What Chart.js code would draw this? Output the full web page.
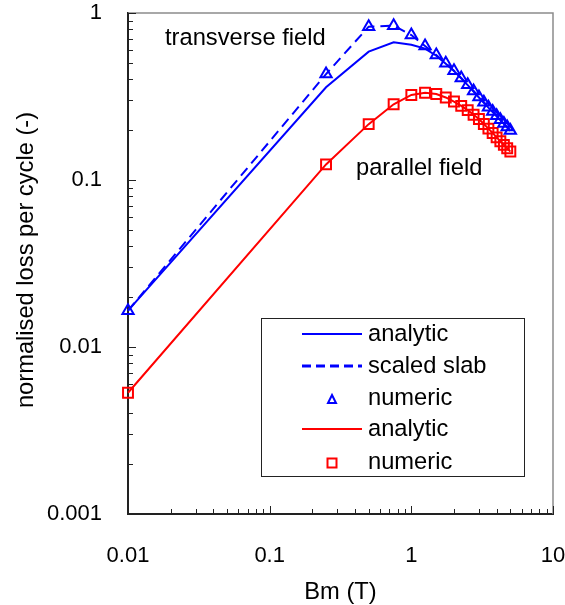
<!DOCTYPE html>
<html>
<head>
<meta charset="utf-8">
<script src="https://cdn.jsdelivr.net/npm/chart.js@4/dist/chart.umd.min.js"></script>
<style>
  html, body { margin: 0; padding: 0; background: #fff; }
  #wrap { width: 565px; height: 605px; }
</style>
</head>
<body>
<div id="wrap"><canvas id="c" width="565" height="605"></canvas></div>
<script>
// ---- data ----
const bm = [0.01, 0.25, 0.5, 0.75, 1.0, 1.25, 1.5, 1.75, 2.0, 2.25, 2.5, 2.75, 3.0, 3.25, 3.5, 3.75, 4.0, 4.25, 4.5, 4.75, 5.0];
const transverseAnalytic = [0.0165, 0.359, 0.587, 0.667, 0.645, 0.612, 0.555, 0.497, 0.449, 0.406, 0.370, 0.339, 0.312, 0.290, 0.271, 0.255, 0.241, 0.228, 0.217, 0.207, 0.197];
const transverseSlab     = [0.0165, 0.431, 0.828, 0.840, 0.738, 0.634, 0.561, 0.500, 0.451, 0.408, 0.372, 0.341, 0.314, 0.292, 0.273, 0.257, 0.2425, 0.2295, 0.218, 0.208, 0.198];
const transverseNumeric  = [0.0165, 0.431, 0.828, 0.840, 0.738, 0.634, 0.561, 0.500, 0.451, 0.408, 0.372, 0.341, 0.314, 0.292, 0.273, 0.257, 0.2425, 0.2295, 0.218, 0.208, 0.198];
const parallelAnalytic   = [0.00532, 0.124, 0.216, 0.284, 0.323, 0.333, 0.327, 0.312, 0.295, 0.278, 0.262, 0.246, 0.232, 0.2165, 0.203, 0.191, 0.180, 0.1707, 0.1624, 0.155, 0.148];
const parallelNumeric    = [0.00532, 0.124, 0.216, 0.284, 0.323, 0.333, 0.327, 0.312, 0.295, 0.278, 0.262, 0.246, 0.232, 0.2165, 0.203, 0.191, 0.180, 0.1707, 0.1624, 0.155, 0.148];
const xTicks = [0.01, 0.1, 1, 10];
const yTicks = [0.001, 0.01, 0.1, 1];
const seriesLabels = ['analytic', 'scaled slab', 'numeric', 'analytic', 'numeric'];
const xTitle = 'Bm (T)';
const yTitle = 'normalised loss per cycle (-)';
const notes = [
  { text: 'transverse field', x: 165, y: 45 },
  { text: 'parallel field', x: 356, y: 175 }
];

const BLUE = '#0000FF', RED = '#FF0000';
const FONT = '"Liberation Sans", Arial, sans-serif';
const FS = 22;     // tick labels
const FT = 23.7;   // other text

function pts(xs, ys) { return xs.map((x, i) => ({ x: x, y: ys[i] })); }

const datasets = [
  { label: seriesLabels[0], data: pts(bm, transverseAnalytic), borderColor: BLUE, borderWidth: 2, pointRadius: 0, showLine: true, order: 2, clip: false },
  { label: seriesLabels[1], data: pts(bm, transverseSlab), borderColor: BLUE, borderWidth: 2, borderDash: [10, 6], pointRadius: 0, showLine: true, order: 2, clip: false },
  { label: seriesLabels[2], data: pts(bm, transverseNumeric), borderColor: BLUE, backgroundColor: 'rgba(0,0,0,0)', pointStyle: 'triangle', pointRadius: 6.5, pointBorderWidth: 2, pointBorderColor: BLUE, pointBackgroundColor: 'rgba(0,0,0,0)', showLine: false, order: 1, clip: false },
  { label: seriesLabels[3], data: pts(bm, parallelAnalytic), borderColor: RED, borderWidth: 2, pointRadius: 0, showLine: true, order: 2, clip: false },
  { label: seriesLabels[4], data: pts(bm, parallelNumeric), borderColor: RED, backgroundColor: 'rgba(0,0,0,0)', pointStyle: 'rect', pointRadius: 7, pointBorderWidth: 2, pointBorderColor: RED, pointBackgroundColor: 'rgba(0,0,0,0)', showLine: false, order: 1, clip: false }
];

const decorPlugin = {
  id: 'decor',
  beforeDatasetsDraw(chart) {
    const ctx = chart.ctx, a = chart.chartArea;
    const xs = chart.scales.x, ys = chart.scales.y;
    ctx.save();
    // top & right frame
    ctx.strokeStyle = '#8c8c8c';
    ctx.lineWidth = 1.5;
    ctx.beginPath();
    ctx.moveTo(a.left, a.top); ctx.lineTo(a.right, a.top); ctx.lineTo(a.right, a.bottom);
    ctx.stroke();
    // inward ticks
    ctx.strokeStyle = '#222';
    ctx.lineWidth = 1;
    for (let k = -3; k <= 0; k++) {
      for (let m = 1; m <= 9; m++) {
        const v = m * Math.pow(10, k);
        if (v > 1.0001) continue;
        const py = Math.round(ys.getPixelForValue(v)) + 0.5;
        const len = m === 1 ? 8 : 5;
        ctx.beginPath(); ctx.moveTo(a.left, py); ctx.lineTo(a.left + len, py); ctx.stroke();
      }
    }
    for (let k = -2; k <= 1; k++) {
      for (let m = 1; m <= 9; m++) {
        const v = m * Math.pow(10, k);
        if (v > 10.0001) continue;
        const px = Math.round(xs.getPixelForValue(v)) + 0.5;
        const len = m === 1 ? 8 : 5;
        ctx.beginPath(); ctx.moveTo(px, a.bottom); ctx.lineTo(px, a.bottom - len); ctx.stroke();
      }
    }
    ctx.restore();
  },
  afterDraw(chart) {
    const ctx = chart.ctx, a = chart.chartArea;
    ctx.save();
    ctx.fillStyle = '#000';
    ctx.font = FT + 'px ' + FONT;
    // axis titles
    ctx.textAlign = 'center';
    ctx.textBaseline = 'middle';
    ctx.fillText(xTitle, (a.left + a.right) / 2, 592);
    ctx.save();
    ctx.translate(26, 260);
    ctx.rotate(-Math.PI / 2);
    ctx.fillText(yTitle, 0, 0);
    ctx.restore();
    // annotations
    ctx.textAlign = 'left';
    ctx.textBaseline = 'alphabetic';
    notes.forEach(n => ctx.fillText(n.text, n.x, n.y));
    // legend box
    const box = { x: 261, y: 318, w: 263, h: 158 };
    ctx.fillStyle = '#fff';
    ctx.fillRect(box.x, box.y, box.w, box.h);
    ctx.strokeStyle = '#222';
    ctx.lineWidth = 1;
    ctx.strokeRect(box.x + 0.5, box.y + 0.5, box.w, box.h);
    const rowY = [334, 366, 398, 429, 462];
    chart.data.datasets.forEach((ds, i) => {
      const y = rowY[i];
      ctx.save();
      if (ds.showLine) {
        ctx.strokeStyle = ds.borderColor;
        ctx.lineWidth = ds.borderDash ? 3 : 2;
        ctx.setLineDash(ds.borderDash ? [9, 5] : []);
        ctx.beginPath(); ctx.moveTo(302, y); ctx.lineTo(362, y); ctx.stroke();
      } else {
        ctx.strokeStyle = ds.pointBorderColor;
        ctx.lineWidth = 2;
        ctx.beginPath();
        if (ds.pointStyle === 'rect') { ctx.rect(332 - 4.5, y - 3.5, 9, 9); }
        else { ctx.moveTo(332, y - 3); ctx.lineTo(336, y + 5); ctx.lineTo(328, y + 5); ctx.closePath(); }
        ctx.stroke();
      }
      ctx.restore();
      ctx.fillStyle = '#000';
      ctx.textBaseline = 'middle';
      ctx.textAlign = 'left';
      ctx.fillText(ds.label, 368, y);
    });
    ctx.restore();
  }
};

function zeroPad(s) { s.paddingLeft = 0; s.paddingRight = 0; s.paddingTop = 0; s.paddingBottom = 0; }

new Chart(document.getElementById('c'), {
  type: 'scatter',
  data: { datasets: datasets },
  options: {
    responsive: false,
    animation: false,
    devicePixelRatio: 1,
    layout: { padding: { top: 13, right: 12, left: 0, bottom: 0 } },
    plugins: { legend: { display: false }, tooltip: { enabled: false } },
    scales: {
      x: {
        type: 'logarithmic', min: 0.01, max: 10,
        afterBuildTicks: s => { s.ticks = xTicks.map(v => ({ value: v })); },
        afterFit: s => { s.height = 91; zeroPad(s); },
        grid: { display: false },
        border: { display: true, color: '#222', width: 2 },
        ticks: { autoSkip: false, maxRotation: 0, padding: 21, color: '#000', font: { family: FONT, size: FS },
          callback: v => String(v) }
      },
      y: {
        type: 'logarithmic', min: 0.001, max: 1,
        afterBuildTicks: s => { s.ticks = yTicks.map(v => ({ value: v })); },
        afterFit: s => { s.width = 128; zeroPad(s); },
        grid: { display: false },
        border: { display: true, color: '#222', width: 2 },
        ticks: { autoSkip: false, padding: 18, color: '#000', font: { family: FONT, size: FS },
          callback: v => String(v) }
      }
    }
  },
  plugins: [decorPlugin]
});
</script>
</body>
</html>
